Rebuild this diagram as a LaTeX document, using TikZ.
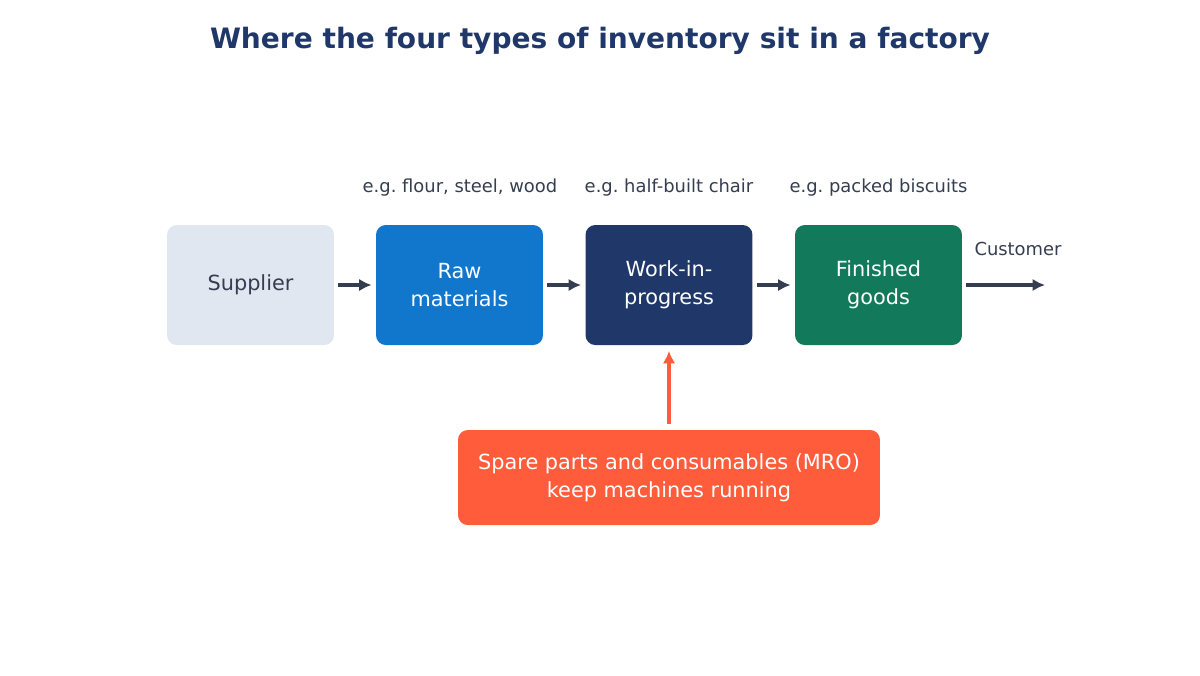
\documentclass[tikz,border=0pt]{standalone}
\usepackage{fontspec}
\setmainfont{DejaVu Sans}
\usepackage{xcolor}
\usetikzlibrary{arrows.meta}

\definecolor{navy}{HTML}{1F3769}
\definecolor{paleblue}{HTML}{E1E7F1}
\definecolor{rawblue}{HTML}{1177CC}
\definecolor{goodsgreen}{HTML}{127A5A}
\definecolor{mrored}{HTML}{FF5C3C}
\definecolor{inkgrey}{HTML}{353D50}

\frenchspacing
\begin{document}
\begin{tikzpicture}[x=0.72pt,y=-0.72pt,>={Latex[length=9pt,width=9pt]},
  stage/.style={rounded corners=7pt,minimum width=120.2pt,minimum height=86.4pt,
    align=center,text=white,font=\fontsize{15}{20}\selectfont},
  note/.style={text=inkgrey,font=\fontsize{12.9}{15}\selectfont},
  flow/.style={->,line width=2.3pt,draw=inkgrey,shorten >=3pt,shorten <=3pt}]

\useasboundingbox (0,0) rectangle (1200,675);

% --- Titolo
\node[font=\bfseries\fontsize{20.2}{24}\selectfont,text=navy] (title) at (600,41)
  {Where the four types of inventory sit in a factory};

% --- Stadi della catena
\node[stage,fill=paleblue,text=inkgrey] (sup) at (250.5,285) {Supplier};
\node[stage,fill=rawblue] (raw) at (459.5,285) {Raw\\materials};
\node[stage,fill=navy] (wip) at (669,285) {Work-in-\\progress};
\node[stage,fill=goodsgreen] (fin) at (878.5,285) {Finished\\goods};

% --- Esempi sopra i box
\node[note] (rawex) at (460,188) {e.g. flour, steel, wood};
\node[note] (wipex) at (669,188) {e.g. half-built chair};
\node[note] (finex) at (878.5,188) {e.g. packed biscuits};

% --- Frecce del flusso
\coordinate (cust) at (1045,285);
\draw[flow] (sup) -- (raw);
\draw[flow] (raw) -- (wip);
\draw[flow] (wip) -- (fin);
\draw[flow,shorten >=0pt] (fin) -- (cust);
\node[note] (custlab) at (1018,249) {Customer};

% --- MRO
\node[stage,fill=mrored,minimum width=303.8pt,minimum height=68.4pt] (mro) at (669,477.5)
  {Spare parts and consumables (MRO)\\keep machines running};
\draw[->,line width=2.3pt,draw=mrored,shorten >=4pt,shorten <=4pt] (mro) -- (wip);

\end{tikzpicture}
\end{document}
